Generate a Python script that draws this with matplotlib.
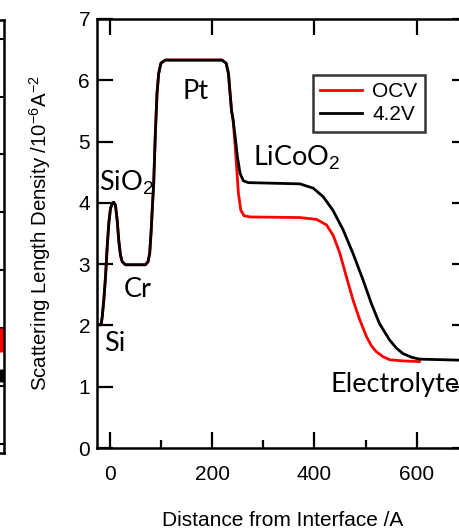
import numpy as np
import matplotlib
matplotlib.use("Agg")
import matplotlib.pyplot as plt

plt.rcParams['font.family'] = ['Liberation Sans', 'DejaVu Sans']
plt.rcParams['mathtext.fontset'] = 'custom'
plt.rcParams['mathtext.rm'] = 'Liberation Sans'
plt.rcParams['mathtext.it'] = 'Liberation Sans:italic'

# distance from interface (A) and SLD (1e-6 A^-2)
x_common = [-25, -18, -16.5, -14.8, -11.7, -8.4, -5.1, -1.9, 1.4, 4.7, 7.8, 11.1,
            14.4, 17.5, 20.8, 24.2, 30.6, 69.5, 74.8, 78, 81, 83, 85.8, 89, 92.3,
            95.5, 100, 108.5, 219, 227.3, 231.9, 235, 238]
sld_common = [2.01, 2.01, 2.04, 2.14, 2.41, 2.79, 3.28, 3.67, 3.91, 3.99, 4.01, 3.96,
              3.72, 3.39, 3.15, 3.04, 2.99, 2.99, 3.04, 3.18, 3.56, 3.9, 4.32, 5.13,
              5.79, 6.11, 6.28, 6.33, 6.33, 6.28, 6.11, 5.79, 5.5]

x_ocv = [241, 245, 248.2, 251.4, 256, 262.4, 274, 371.5, 404, 423.5, 436.5, 449.5,
         462.5, 475.5, 488.5, 501.5, 511, 521, 534, 547, 575, 605]
sld_ocv = [5.35, 4.92, 4.54, 4.15, 3.88, 3.79, 3.77, 3.76, 3.73, 3.64, 3.47, 3.18,
           2.79, 2.41, 2.09, 1.82, 1.67, 1.57, 1.49, 1.44, 1.42, 1.41]

x_42v = [241, 245, 249.4, 254.6, 261, 270.8, 371.5, 397.5, 417, 436, 456, 475, 495,
         511, 527, 547, 560, 573, 590, 605, 700]
sld_42v = [5.35, 5.08, 4.75, 4.48, 4.36, 4.33, 4.31, 4.24, 4.10, 3.88, 3.56, 3.18,
           2.74, 2.36, 2.03, 1.76, 1.63, 1.54, 1.48, 1.45, 1.43]

labels = ['Si', 'SiO$_\\mathrm{2}$', 'Cr', 'Pt', 'LiCoO$_\\mathrm{2}$', 'Electrolyte']
label_x = [-12, -22, 27, 143, 280, 432]
label_y = [1.71, 4.32, 2.58, 5.81, 4.73, 1.03]

# remnant of the neighbouring panel on the left
left_ticks = np.arange(0.15, 7.5, 1.0)
left_red_y = [1.75, 2.15]
left_black_y = [1.22, 1.45]

fig = plt.figure(figsize=(4.6, 5.31), dpi=100)

axl = fig.add_axes([-0.5, 1 - 453 / 531, 0.5 + 4 / 460, 433 / 531])
axl.set_xlim(0, 1)
axl.set_ylim(0, 7.47)
axl.plot([0.995, 0.995], left_red_y, color='red', lw=5, solid_capstyle='butt')
axl.plot([0.995, 0.995], left_black_y, color='black', lw=5, solid_capstyle='butt')
axl.set_yticks(left_ticks)
axl.set_xticks([])
axl.tick_params(axis='y', direction='in', right=True, left=False, labelleft=False,
                length=3, width=1.5)
for s in axl.spines.values():
    s.set_linewidth(1.8)

ax = fig.add_axes([97 / 460, 1 - 448 / 531, 371 / 460, 429 / 531])

x_red = x_common + x_ocv
y_red = sld_common + sld_ocv
x_blk = x_common + x_42v
y_blk = sld_common + sld_42v
ax.plot(x_red, y_red, color='red', lw=2, label='OCV', solid_joinstyle='round')
ax.plot(x_blk, y_blk, color='black', lw=2, label='4.2V', solid_joinstyle='round')

ax.set_xlim(-25, 700)
ax.set_ylim(0, 7)
ax.set_xticks([0, 200, 400, 600])
ax.set_xticks([100, 300, 500], minor=True)
ax.set_yticks(range(0, 8))
ax.tick_params(axis='both', which='major', direction='in', length=11.5, width=1.6,
               labelsize=15, top=True, right=True)
ax.tick_params(axis='x', which='major', pad=12)
ax.tick_params(axis='y', which='major', pad=5)
ax.tick_params(axis='x', which='minor', direction='in', length=5.5, width=1.6,
               top=False)
for s in ax.spines.values():
    s.set_linewidth(1.8)

ax.set_xlabel('Distance from Interface /A', fontsize=15, labelpad=20)
ax.set_ylabel('Scattering Length Density /10$^{-6}$A$^{-2}$', fontsize=14.7,
              labelpad=18)

for t, lx, ly in zip(labels, label_x, label_y):
    ax.text(lx, ly, t, fontsize=19.5, family=['Lato', 'DejaVu Sans'],
            math_fontfamily='custom', ha='left', va='center')

leg = ax.legend(loc='upper left', bbox_to_anchor=(0.582, 0.8695), borderaxespad=0,
                fontsize=15, frameon=True, fancybox=False, edgecolor='black',
                handlelength=2.0, handletextpad=0.5, labelspacing=0.2, borderpad=0.35)
leg.get_frame().set_linewidth(1.8)

fig.savefig('out.png', dpi=100)
